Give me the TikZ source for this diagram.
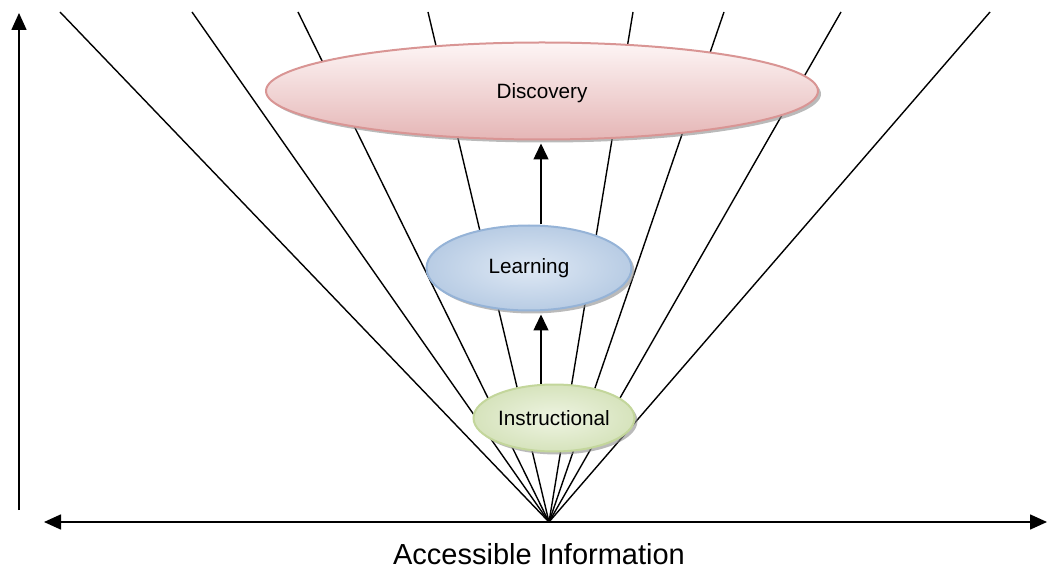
\documentclass[tikz,border=0pt]{standalone}
\usepackage{fontspec}
\setmainfont{Liberation Sans}
\usetikzlibrary{shapes.geometric,shadows,arrows.meta}

\definecolor{discline}{RGB}{217,149,148}
\definecolor{disctop}{RGB}{253,245,245}
\definecolor{discbot}{RGB}{229,182,182}
\definecolor{learnline}{RGB}{149,179,215}
\definecolor{learnin}{RGB}{222,232,244}
\definecolor{learnout}{RGB}{184,204,228}
\definecolor{instrline}{RGB}{195,214,155}
\definecolor{instrin}{RGB}{238,244,226}
\definecolor{instrout}{RGB}{214,227,188}

\tikzset{
  fan/.style={line width=1.4pt,black},
  axisarrow/.style={line width=1.6pt,-{Triangle[length=17pt,width=15pt]}},
  uparrow/.style={line width=1.5pt,-{Triangle[length=16pt,width=15pt]}},
  stage/.style={shape=ellipse,inner sep=0pt,line width=2pt,
    font=\fontsize{20.7}{24}\selectfont,
    drop shadow={shadow xshift=3pt,shadow yshift=-3pt,fill=black!45,opacity=0.6}},
}

\begin{document}
\begin{tikzpicture}[x=1pt,y=-1pt]
	\useasboundingbox (0,0) rectangle (1047,569);

	% fan of lines
	\coordinate (apex) at (549,522);
	\foreach \tx in {60,192,298,428,633,724,841,990} {
		\coordinate (top\tx) at (\tx,12);
		\draw[fan] (apex) -- (top\tx);
	}

	% axes
	\coordinate (vbot) at (19,510);
	\coordinate (vtop) at (19,13);
	\coordinate (hleft) at (44,522);
	\coordinate (hright) at (1047,522);
	\draw[axisarrow] (vbot) -- (vtop);
	\draw[axisarrow] (apex) -- (hleft);
	\draw[axisarrow] (apex) -- (hright);

	% stages
	\node[stage,draw=discline,top color=disctop,bottom color=discbot,
		minimum width=552pt,minimum height=97pt,text depth=-6pt] (disc) at (542,91) {Discovery};
	\node[stage,draw=learnline,inner color=learnin,outer color=learnout,
		minimum width=205pt,minimum height=85pt] (learn) at (529,268) {Learning};
	\node[stage,draw=instrline,inner color=instrin,outer color=instrout,
		minimum width=161pt,minimum height=67pt] (instr) at (554,418) {Instructional};

	\coordinate (mid) at (541,0);
	\draw[uparrow] (instr.north -| mid) -- ([yshift=-3pt]learn.south -| mid);
	\draw[uparrow] (learn.north -| mid) -- ([yshift=-3pt]disc.south -| mid);

	\node[font=\fontsize{29}{34}\selectfont] (info) at (539,554) {Accessible Information};

\end{tikzpicture}
\end{document}
